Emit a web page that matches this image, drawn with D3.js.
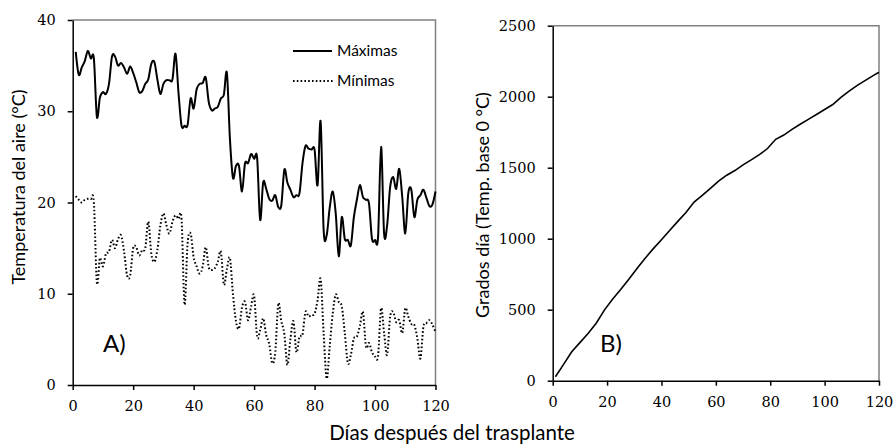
<!DOCTYPE html>
<html>
<head>
<meta charset="utf-8">
<script src="https://cdn.jsdelivr.net/npm/d3@7"></script>
<style>
  body { margin: 0; background: #fff; }
  svg text { fill: #000; }
</style>
</head>
<body>
<svg id="chart" width="896" height="444"></svg>
<script>
// dias 1..120, temperaturas
const maximas = [
  36.5, 34.0, 34.8, 35.5, 36.6, 35.8, 35.8, 29.4, 31.5, 32.1,
  31.9, 33.0, 36.0, 36.0, 35.0, 35.3, 34.8, 34.1, 34.9, 34.2,
  33.2, 32.1, 32.2, 33.0, 33.5, 35.2, 35.4, 33.5, 31.9, 33.0,
  33.4, 33.4, 33.5, 36.3, 32.0, 28.4, 28.4, 28.5, 31.4, 30.3,
  32.4, 33.0, 33.1, 33.7, 31.0, 30.1, 30.3, 30.5, 31.4, 31.8,
  34.2, 27.0, 22.7, 24.0, 24.0, 21.2, 24.3, 24.3, 25.3, 24.8,
  24.9, 18.1, 22.2, 21.5, 20.4, 20.2, 20.8, 19.5, 19.7, 23.6,
  22.2, 21.4, 20.6, 20.8, 21.0, 24.3, 26.2, 25.9, 25.8, 25.8,
  21.9, 28.9, 17.0, 16.4, 19.4, 21.2, 18.8, 14.1, 18.4, 16.0,
  15.9, 15.3, 18.4, 20.3, 21.9, 20.6, 20.3, 19.9, 16.0, 15.9,
  16.2, 26.1, 16.6, 17.5, 21.7, 22.8, 21.5, 23.7, 20.6, 16.6,
  21.0, 21.4, 18.4, 20.3, 20.8, 21.4, 20.5, 19.6, 19.8, 21.2
];
const minimas = [
  20.7, 20.3, 20.0, 20.3, 20.4, 20.4, 20.0, 11.2, 13.9, 13.0,
  14.4, 14.6, 15.9, 15.0, 16.0, 16.4, 14.6, 12.0, 12.0, 15.0,
  15.1, 14.2, 14.8, 15.0, 17.9, 14.4, 13.5, 14.8, 17.5, 18.8,
  17.5, 16.6, 17.9, 18.6, 18.2, 18.2, 8.8, 15.5, 16.6, 14.0,
  13.0, 12.2, 13.0, 15.1, 12.9, 12.6, 12.8, 13.5, 14.6, 11.0,
  12.7, 13.9, 10.0, 7.0, 6.2, 8.5, 9.1, 7.1, 8.6, 9.8,
  5.3, 6.0, 7.3, 5.5, 4.5, 2.4, 3.6, 8.9, 7.0, 5.6,
  2.2, 5.0, 7.0, 3.6, 5.3, 5.5, 8.0, 7.5, 7.7, 7.8,
  9.3, 11.6, 5.7, 0.7, 4.2, 7.8, 9.9, 9.1, 8.6, 5.7,
  2.4, 3.3, 5.1, 5.3, 6.5, 8.0, 4.2, 4.6, 3.6, 3.1,
  3.2, 8.4, 5.7, 3.3, 7.5, 8.0, 6.9, 7.1, 5.7, 8.4,
  7.5, 6.7, 6.6, 5.1, 2.9, 6.4, 6.8, 7.1, 6.6, 5.8
];

// grados dia acumulados (panel B)
const diasGD = [1, 4, 7, 10, 13, 16, 19, 22, 25, 28, 31, 34, 37, 40, 43, 46, 49, 52, 55, 58,
  61, 64, 67, 70, 73, 76, 79, 82, 85, 88, 91, 94, 97, 100, 103, 106, 109, 112, 115, 118, 120];
const gradosDia = [28, 115, 204, 268, 333, 405, 497, 573, 642, 715, 790, 862, 930, 993, 1058, 1122, 1185, 1258, 1305, 1355,
  1405, 1447, 1480, 1520, 1555, 1592, 1635, 1700, 1730, 1770, 1806, 1840, 1875, 1910, 1945, 1995, 2040, 2080, 2115, 2150, 2172];

const xTicks = [0, 20, 40, 60, 80, 100, 120];
const yTicksA = [0, 10, 20, 30, 40];
const yTicksB = [0, 500, 1000, 1500, 2000, 2500];

const svg = d3.select("#chart");
const tickFont = "'DejaVu Serif', 'Liberation Serif', serif";
const labelFont = "Lato, 'Open Sans', sans-serif";

function panel(x0, x1, y0, y1, yMax, yTicks) {
  const x = d3.scaleLinear().domain([0, 120]).range([x0, x1]);
  const y = d3.scaleLinear().domain([0, yMax]).range([y1, y0]);
  // borde superior y derecho
  svg.append("path")
    .attr("d", `M${x0},${y0}H${x1}V${y1}`)
    .attr("fill", "none").attr("stroke", "#808080").attr("stroke-width", 1.5);
  const gx = svg.append("g").attr("transform", `translate(0,${y1})`)
    .call(d3.axisBottom(x).tickValues(xTicks).tickFormat(d3.format("d"))
      .tickSizeInner(5).tickSizeOuter(0).tickPadding(11));
  const gy = svg.append("g").attr("transform", `translate(${x0},0)`)
    .call(d3.axisLeft(y).tickValues(yTicks).tickFormat(d3.format("d"))
      .tickSizeInner(5).tickSizeOuter(0).tickPadding(12));
  [gx, gy].forEach(g => {
    g.attr("font-family", null).attr("font-size", null);
    g.selectAll("path, line").attr("stroke", "#000").attr("stroke-width", 1.5);
    g.selectAll("text").style("font-family", tickFont).style("font-size", "14.5px").attr("fill", "#000");
  });
  return { x, y };
}

// Panel A
const A = panel(72.7, 435.5, 20, 385, 40, yTicksA);
const lineA = d3.line().x((d, i) => A.x(i + 1)).y(d => A.y(d)).curve(d3.curveCardinal);
svg.append("path").datum(minimas).attr("d", lineA)
  .attr("fill", "none").attr("stroke", "#000").attr("stroke-width", 2)
  .attr("stroke-dasharray", "1.6,2.2");
svg.append("path").datum(maximas).attr("d", lineA)
  .attr("fill", "none").attr("stroke", "#000").attr("stroke-width", 2);

// leyenda
const leg = svg.append("g");
leg.append("line").attr("x1", 293).attr("x2", 332).attr("y1", 51).attr("y2", 51)
  .attr("stroke", "#000").attr("stroke-width", 2);
leg.append("line").attr("x1", 293).attr("x2", 333).attr("y1", 81).attr("y2", 81)
  .attr("stroke", "#000").attr("stroke-width", 2).attr("stroke-dasharray", "1.6,2.2");
leg.append("text").attr("x", 337).attr("y", 56).text("Máximas")
  .style("font-family", labelFont).style("font-size", "15.5px");
leg.append("text").attr("x", 337).attr("y", 86).text("Mínimas")
  .style("font-family", labelFont).style("font-size", "15.5px");

svg.append("text").attr("x", 103).attr("y", 352).text("A)")
  .style("font-family", labelFont).style("font-size", "24px");

svg.append("text")
  .attr("transform", "translate(25,187) rotate(-90)")
  .attr("text-anchor", "middle")
  .style("font-family", labelFont).style("font-size", "18px")
  .text("Temperatura del aire (°C)");

// Panel B
const B = panel(552.7, 879, 25.7, 380.7, 2500, yTicksB);
const lineB = d3.line().x((d, i) => B.x(diasGD[i])).y(d => B.y(d)).curve(d3.curveLinear);
svg.append("path").datum(gradosDia).attr("d", lineB)
  .attr("fill", "none").attr("stroke", "#000").attr("stroke-width", 1.6);

svg.append("text").attr("x", 600).attr("y", 352).text("B)")
  .style("font-family", labelFont).style("font-size", "24px");

svg.append("text")
  .attr("transform", "translate(489,205) rotate(-90)")
  .attr("text-anchor", "middle")
  .style("font-family", labelFont).style("font-size", "18px")
  .text("Grados día (Temp. base 0 °C)");

svg.append("text")
  .attr("x", 452).attr("y", 440)
  .attr("text-anchor", "middle")
  .style("font-family", labelFont).style("font-size", "20.5px")
  .text("Días después del trasplante");
</script>
</body>
</html>
